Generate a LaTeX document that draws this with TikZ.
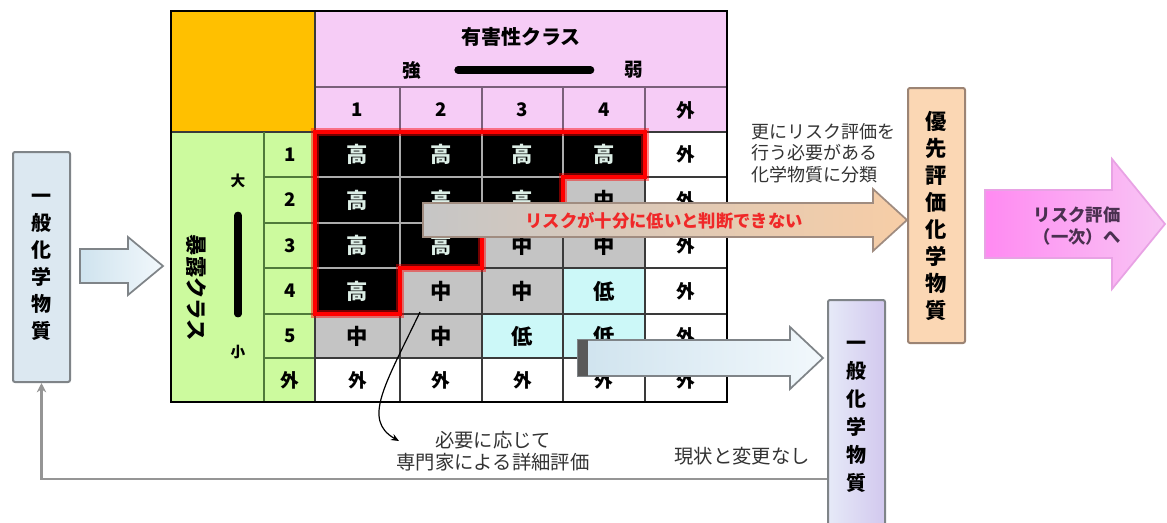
\documentclass[tikz,border=0pt]{standalone}
\usepackage{fontspec}
\setmainfont{Noto Sans CJK JP}
\usetikzlibrary{arrows.meta}
\definecolor{orangehd}{HTML}{FFC000}
\definecolor{pinkhd}{HTML}{F6CCF6}
\definecolor{greenhd}{HTML}{CCFA9E}
\definecolor{greenline}{HTML}{4F7A3A}
\definecolor{midgray}{HTML}{C4C4C4}
\definecolor{lowcyan}{HTML}{CCF8F8}
\definecolor{hitext}{HTML}{DCEEE6}
\definecolor{gridc}{HTML}{3A3A3A}
\definecolor{hdgrid}{HTML}{7A607A}
\definecolor{boxblue}{HTML}{DCE8F1}
\definecolor{boxgray}{HTML}{7F8488}
\definecolor{peach}{HTML}{FBD7B4}
\definecolor{peachedge}{HTML}{9C8474}
\definecolor{lav}{HTML}{E6EAF8}
\definecolor{lavdark}{HTML}{D2C8EE}
\definecolor{arrgray}{HTML}{C6C6C6}
\definecolor{arrpeach}{HTML}{F7CDA6}
\definecolor{arredge}{HTML}{A08C80}
\definecolor{redtxt}{HTML}{F02828}
\definecolor{pinkL}{HTML}{FF8AF2}
\definecolor{pinkR}{HTML}{F8C6F4}
\definecolor{pinkedge}{HTML}{E8A2E4}
\definecolor{pinktxt}{HTML}{4A3050}
\definecolor{lineg}{HTML}{959595}
\definecolor{bluearrL}{HTML}{CFE3EE}
\definecolor{bluearrR}{HTML}{F2F8FC}
\definecolor{txtdark}{HTML}{333333}
\newcommand\jfs[2]{\fontsize{#1}{#2}\selectfont}
\def\labH{高}\def\labM{中}\def\labL{低}\def\labO{外}
\newcommand\tcel[5]{%
  \path[c#5] (#1,#3) rectangle (#2,#4);
  \node[t#5] (k#1-#3) at ({(#1+#2)/2},{(#3+#4)/2}) {\csname lab#5\endcsname};}
\newcommand\rowcells[7]{\tcel{315}{400}{#1}{#2}{#3}\tcel{400}{482}{#1}{#2}{#4}\tcel{482}{563}{#1}{#2}{#5}\tcel{563}{645}{#1}{#2}{#6}\tcel{645}{727}{#1}{#2}{#7}}
\newcommand\blockarrow[7]{%
  \path[#1] (#2,#5-#6) -- (#3,#5-#6) -- (#3,#5-#7) -- (#4,#5) -- (#3,#5+#7) -- (#3,#5+#6) -- (#2,#5+#6) -- cycle;}
\begin{document}
\begin{tikzpicture}[x=0.75pt,y=-0.75pt,
  cH/.style={fill=black, draw=gray!65, line width=0.8pt},
  cM/.style={fill=midgray, draw=gridc, line width=0.8pt},
  cL/.style={fill=lowcyan, draw=gridc, line width=0.8pt},
  cO/.style={fill=white, draw=gridc, line width=0.8pt},
  tbase/.style={font={\jfs{16}{18}\bfseries}, inner sep=0pt},
  tH/.style={tbase, text=hitext},
  tM/.style={tbase},
  tL/.style={tbase},
  tO/.style={tbase, font={\jfs{14}{16}\bfseries}},
  num/.style={font={\jfs{14}{16}\bfseries}, inner sep=0pt},
  vbox/.style={line width=1.5pt, rounded corners=1.5pt, minimum width=57*0.75pt, align=center, inner sep=0pt},
  bararrow/.style={line width=5.5pt, line cap=round},
]
\fill[white] (0,0) rectangle (1167,522);
\useasboundingbox (0,0) rectangle (1167,522);
\clip (0,0) rectangle (1167,522);

% header fills
\fill[orangehd] (171,11) rectangle (315,132);
\fill[pinkhd] (315,11) rectangle (727,132);
\fill[greenhd] (171,132) rectangle (315,402);

% cells
\rowcells{132}{177}{H}{H}{H}{H}{O}
\rowcells{177}{223}{H}{H}{H}{M}{O}
\rowcells{223}{268}{H}{H}{M}{M}{O}
\rowcells{268}{314}{H}{M}{M}{L}{O}
\rowcells{314}{358}{M}{M}{L}{L}{O}
\rowcells{358}{402}{O}{O}{O}{O}{O}

% header grid
\draw[hdgrid, line width=1pt] (315,87) -- (727,87);
\foreach \x in {400,482,563,645} \draw[hdgrid, line width=1pt] (\x,87) -- (\x,132);
\draw[gridc, line width=1pt] (171,132) -- (727,132);
% green grid
\draw[greenline, line width=1pt] (264,132) -- (264,402);
\foreach \y in {177,223,268,314,358} \draw[greenline, line width=1pt] (264,\y) -- (315,\y);
\draw[gridc, line width=1pt] (315,11) -- (315,402);

% red outline of high region
\path[draw=red, opacity=0.45, line width=6pt, line join=miter]
  (315,132) -- (645,132) -- (645,177) -- (563,177) -- (563,223) -- (482,223) -- (482,268) -- (400,268) -- (400,314) -- (315,314) -- cycle;
\draw[red, line width=2.4pt, line join=miter]
  (315,132) -- (645,132) -- (645,177) -- (563,177) -- (563,223) -- (482,223) -- (482,268) -- (400,268) -- (400,314) -- (315,314) -- cycle;

% outer border
\draw[black, line width=2.2pt] (171,11) rectangle (727,402);

% header texts
\node[font={\jfs{15}{18}\bfseries}] (hazt) at (521,37) {有害性クラス};
\node[font={\jfs{14}{16}\bfseries}] (strong) at (412,70) {強};
\node[font={\jfs{14}{16}\bfseries}] (weak) at (634,70) {弱};
\draw[bararrow, shorten <=24pt, shorten >=22pt] (strong) -- (weak);
\node[num] (col1) at (357.5,110) {1};
\node[num] (col2) at (441,110) {2};
\node[num] (col3) at (522.5,110) {3};
\node[num] (col4) at (604,110) {4};
\node[num] (col5) at (686,110) {外};
\node[num] (row1) at (290,154.5) {1};
\node[num] (row2) at (290,200) {2};
\node[num] (row3) at (290,245.5) {3};
\node[num] (row4) at (290,291) {4};
\node[num] (row5) at (290,336) {5};
\node[num] (row6) at (290,380) {外};
\node[font={\jfs{16}{18}\bfseries}, rotate=-90] (expt) at (196,288) {暴露クラス};
\node[font={\jfs{11}{13}\bfseries}] (big) at (238,181) {大};
\node[font={\jfs{11}{13}\bfseries}] (small) at (238,352) {小};
\draw[bararrow, shorten <=17pt, shorten >=20pt] (big) -- (small);

% left blue block arrow
\blockarrow{draw=boxgray, line width=1.3pt, left color=bluearrL, right color=bluearrR}{80}{128}{163}{266}{17}{29}
% red/peach block arrow
\blockarrow{draw=arredge, line width=1.3pt, left color=arrgray, right color=arrpeach}{423}{873}{907}{220}{17}{31}
\node[font={\jfs{13}{15}\bfseries}, text=redtxt] (redmsg) at (664,221) {リスクが十分に低いと判断できない};
% lower blue block arrow
\blockarrow{draw=boxgray, line width=1.3pt, left color=bluearrL, right color=bluearrR}{578}{790}{823}{358}{18}{31}
\fill[black!65] (578,340) rectangle (588,376);
% pink block arrow
\blockarrow{draw=pinkedge, line width=1.3pt, left color=pinkL, right color=pinkR}{985}{1112}{1165}{224}{34}{65}
\node[font={\jfs{13}{16.5}\bfseries}, text=pinktxt, align=center] (pinkmsg) at (1077,226) {リスク評価\\（一次）へ};

% boxes
\node[vbox, draw=boxgray, fill=boxblue, minimum height=230*0.75pt, font={\jfs{15}{20.25}\bfseries}] (gen1) at (41.5,267) {一\\般\\化\\学\\物\\質};
\node[vbox, draw=peachedge, fill=peach, minimum height=255*0.75pt, font={\jfs{16}{20.25}\bfseries}] (prio) at (936.5,215.5) {優\\先\\評\\価\\化\\学\\物\\質};
\node[vbox, draw=boxgray, left color=lav, right color=lavdark, minimum height=234*0.75pt, font={\jfs{15}{21}\bfseries}] (gen2) at (856.5,417) {一\\般\\化\\学\\物\\質};

% texts
\node[anchor=west, align=left, font={\jfs{13.5}{16}}, text=txtdark] (note) at (747,153) {更にリスク評価を\\行う必要がある\\化学物質に分類};
\node[align=center, font={\jfs{14.5}{16.5}}, text=txtdark] (detail) at (493,451) {必要に応じて\\専門家による詳細評価};
\node[font={\jfs{14.5}{17}}, text=txtdark] (nochg) at (742,456) {現状と変更なし};

% connectors
\coordinate (fb) at (0,479);
\draw[lineg, line width=2.2pt, -{Stealth[length=7pt,width=7pt]}] (gen2.west |- fb) -| (gen1.south);
\coordinate (cstart) at (420,312);
\coordinate (ctip) at (399,441);
\draw[black, line width=0.9pt, -{Stealth[length=6pt,width=5pt]}] (cstart) .. controls (385,385) and (362,420) .. (ctip);
\end{tikzpicture}
\end{document}
